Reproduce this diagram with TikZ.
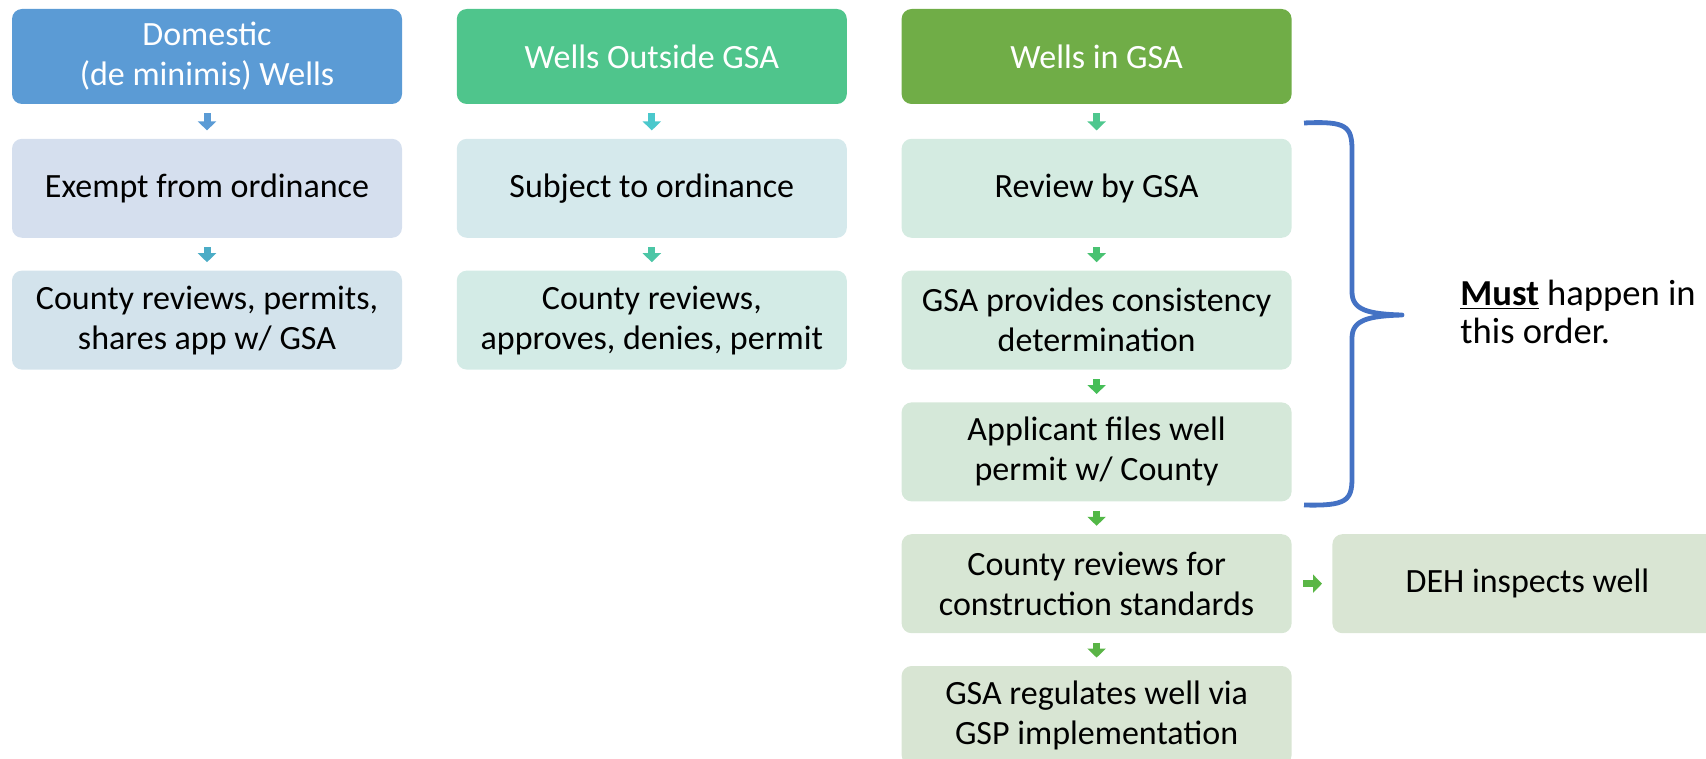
\documentclass[tikz,border=0pt]{standalone}
\usepackage{fontspec}
\setmainfont{Carlito}
\usetikzlibrary{arrows.meta, positioning}

\definecolor{headblue}{HTML}{5B9BD5}
\definecolor{headteal}{HTML}{4FC58C}
\definecolor{headgreen}{HTML}{70AD47}
\definecolor{bracecol}{HTML}{4472C4}

\begin{document}
\begin{tikzpicture}[
    x=0.5pt, y=-0.5pt,
    node distance=16pt and 27pt,
    head/.style={rectangle, rounded corners=5pt, minimum width=195pt, minimum height=47.5pt, align=center, text=white, inner sep=0pt, font=\fontsize{17}{20}\selectfont},
    stepbox/.style={rectangle, rounded corners=5pt, minimum width=195pt, minimum height=49.5pt, align=center, inner sep=0pt, font=\fontsize{17}{20}\selectfont},
    arrow/.style={line width=3.5pt, -{Triangle[width=9pt,length=4.5pt]}, shorten <=4.5pt, shorten >=4pt}
]
    \useasboundingbox (0,0) rectangle (1706,759);

    % Headers
    \node[head, fill=headblue] (dom) at (207,56.5) {Domestic\\(de minimis) Wells};
    \node[head, fill=headteal, right=of dom] (outs) {Wells Outside GSA};
    \node[head, fill=headgreen, right=of outs] (ings) {Wells in GSA};

    % Column 1
    \node[stepbox, fill={rgb,255:red,213;green,223;blue,238}, below=17pt of dom] (exempt) {Exempt from ordinance};
    \node[stepbox, fill={rgb,255:red,211;green,227;blue,236}, below=of exempt] (cty1) {County reviews, permits,\\shares app w/ GSA};

    % Column 2
    \node[stepbox, fill={rgb,255:red,213;green,233;blue,236}, below=17pt of outs] (subj) {Subject to ordinance};
    \node[stepbox, fill={rgb,255:red,211;green,235;blue,230}, below=of subj] (cty2) {County reviews,\\approves, denies, permit};

    % Column 3
    \node[stepbox, fill={rgb,255:red,212;green,235;blue,225}, below=17pt of ings] (rev) {Review by GSA};
    \node[stepbox, fill={rgb,255:red,212;green,234;blue,222}, below=of rev] (cons) {GSA provides consistency\\determination};
    \node[stepbox, fill={rgb,255:red,213;green,232;blue,217}, below=of cons] (appl) {Applicant files well\\permit w/ County};
    \node[stepbox, fill={rgb,255:red,215;green,230;blue,212}, below=of appl] (crev) {County reviews for\\construction standards};
    \node[stepbox, fill={rgb,255:red,216;green,229;blue,211}, below=of crev] (greg) {GSA regulates well via\\GSP implementation};
    \node[stepbox, fill={rgb,255:red,217;green,229;blue,211}, right=20pt of crev] (deh) {DEH inspects well};

    % Note
    \node[anchor=west, align=left, inner sep=0pt, font=\fontsize{18.3}{19}\selectfont] (note) at (1460,312) {\underline{\textbf{Must}} happen in\\this order.};

    % Brace
    \draw[bracecol, line width=2.4pt, line join=round]
        (1304,123) .. controls (1346,121) and (1352,126) .. (1352,150)
        -- (1352,292) .. controls (1352,310) and (1368,314) .. (1402,315)
        .. controls (1368,316) and (1352,320) .. (1352,338)
        -- (1352,478) .. controls (1352,501) and (1346,506) .. (1304,505);

    % Arrows
    \draw[arrow, color={rgb,255:red,91;green,155;blue,213}] (dom) -- (exempt);
    \draw[arrow, color={rgb,255:red,75;green,172;blue,198}] (exempt) -- (cty1);
    \draw[arrow, color={rgb,255:red,75;green,200;blue,204}] (outs) -- (subj);
    \draw[arrow, color={rgb,255:red,76;green,198;blue,166}] (subj) -- (cty2);
    \draw[arrow, color={rgb,255:red,78;green,199;blue,142}] (ings) -- (rev);
    \draw[arrow, color={rgb,255:red,73;green,194;blue,114}] (rev) -- (cons);
    \draw[arrow, color={rgb,255:red,70;green,190;blue,88}] (cons) -- (appl);
    \draw[arrow, color={rgb,255:red,82;green,184;blue,70}] (appl) -- (crev);
    \draw[arrow, color={rgb,255:red,90;green,180;blue,70}] (crev) -- (greg);
    \draw[arrow, color={rgb,255:red,90;green,182;blue,70}, shorten <=5.5pt, shorten >=5pt] (crev) -- (deh);

\end{tikzpicture}
\end{document}
